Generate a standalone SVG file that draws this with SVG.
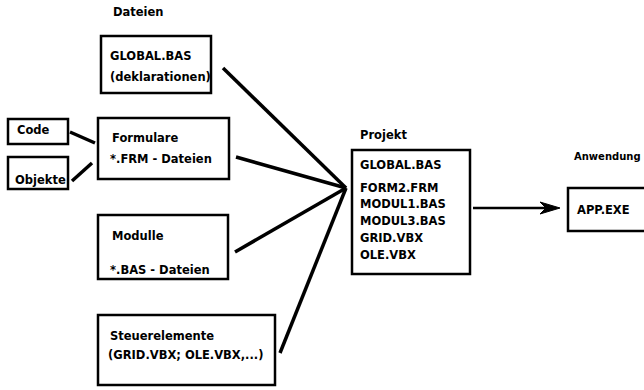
<svg xmlns="http://www.w3.org/2000/svg" width="644" height="390" viewBox="0 0 644 390">
<style>
text{font-family:"DejaVu Sans","Liberation Sans",sans-serif;font-size:11.5px;font-weight:bold;fill:#000}
.box{fill:#fff;stroke:#000;stroke-width:2.5}
.con{stroke:#000;stroke-width:3.5;fill:none;stroke-linecap:butt}
</style>
<rect width="644" height="390" fill="#fff"/>
<text x="113" y="16">Dateien</text>
<text x="360" y="139">Projekt</text>
<text x="574" y="160" style="font-size:10px">Anwendung</text>
<g id="connectors">
<line class="con" x1="70" y1="132" x2="95" y2="143"/>
<line class="con" x1="72" y1="181" x2="92" y2="163"/>
<line class="con" x1="223" y1="68" x2="346" y2="188"/>
<line class="con" x1="236" y1="157" x2="346" y2="188"/>
<line class="con" x1="235" y1="252" x2="346" y2="188"/>
<line class="con" x1="280" y1="353" x2="346" y2="188"/>
<line stroke="#000" stroke-width="2.5" x1="473" y1="208" x2="545" y2="208"/>
<path d="M540 202 L560 208 L540 214 L546 208 Z" fill="#000" stroke="#000" stroke-width="1"/>
</g>
<g id="global">
<rect class="box" x="101" y="36" width="110" height="57"/>
<text x="110" y="60">GLOBAL.BAS</text>
<text x="110" y="81">(deklarationen)</text>
</g>
<g id="code">
<rect class="box" x="8" y="119" width="60" height="25"/>
<text x="17" y="134">Code</text>
</g>
<g id="objekte">
<rect class="box" x="8" y="157" width="60" height="32"/>
<text x="15" y="184">Objekte</text>
</g>
<g id="formulare">
<rect class="box" x="98" y="118" width="131" height="61"/>
<text x="112" y="142">Formulare</text>
<text x="110" y="163">*.FRM - Dateien</text>
</g>
<g id="modulle">
<rect class="box" x="98" y="215" width="130" height="64"/>
<text x="112" y="240">Modulle</text>
<text x="110" y="274">*.BAS - Dateien</text>
</g>
<g id="steuerelemente">
<rect class="box" x="98" y="315" width="177" height="70"/>
<text x="110" y="340">Steuerelemente</text>
<text x="108" y="359">(GRID.VBX; OLE.VBX,...)</text>
</g>
<g id="projekt">
<rect class="box" x="352" y="150" width="118" height="124"/>
<text x="360" y="169">GLOBAL.BAS</text>
<text x="360" y="192">FORM2.FRM</text>
<text x="360" y="208">MODUL1.BAS</text>
<text x="360" y="225">MODUL3.BAS</text>
<text x="360" y="242">GRID.VBX</text>
<text x="360" y="259">OLE.VBX</text>
</g>
<g id="app">
<rect class="box" x="568" y="188" width="90" height="43"/>
<text x="577" y="214">APP.EXE</text>
</g>
</svg>
